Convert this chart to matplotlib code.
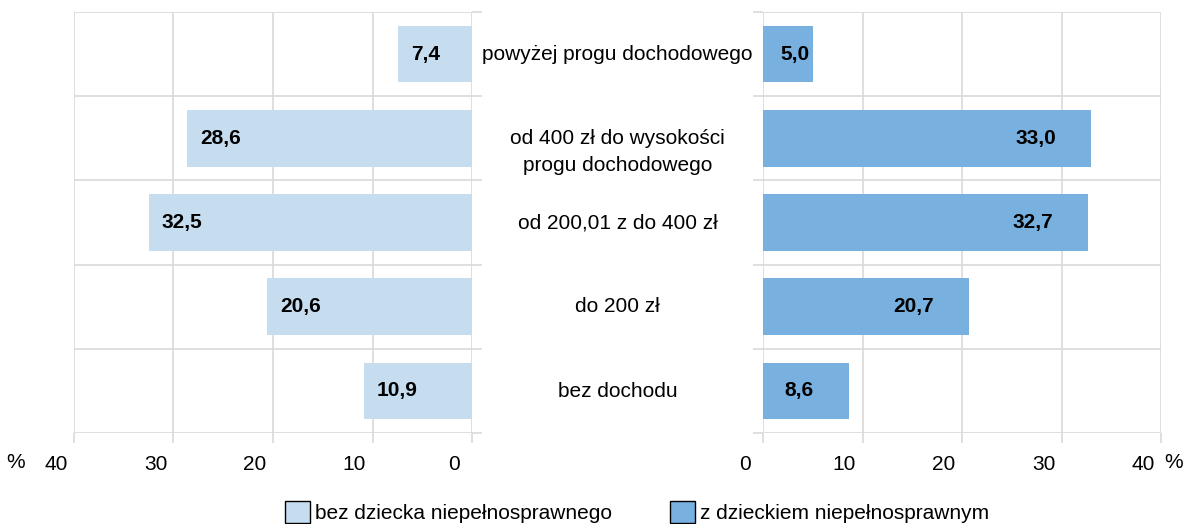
import numpy as np
import matplotlib.pyplot as plt
import matplotlib.transforms as mtransforms

plt.rcParams['font.family'] = ['Liberation Sans', 'DejaVu Sans']
plt.rcParams['font.size'] = 15

categories = ['bez dochodu', 'do 200 zł', 'od 200,01 z do 400 zł',
              'od 400 zł do wysokości\nprogu dochodowego', 'powyżej progu dochodowego']
bez_dziecka = [10.9, 20.6, 32.5, 28.6, 7.4]
z_dzieckiem = [8.6, 20.7, 32.7, 33.0, 5.0]
ticks = [0, 10, 20, 30, 40]
series_names = ['bez dziecka niepełnosprawnego', 'z dzieckiem niepełnosprawnym']

light = '#C6DDF0'
dark = '#78B0DF'
grid_c = '#D9D9D9'

fig = plt.figure(figsize=(11.87, 5.24), dpi=100)
ax1 = fig.add_axes([74/1187, 1-433/524, 398/1187, 421/524])
ax2 = fig.add_axes([763/1187, 1-433/524, 398/1187, 421/524])

y = np.arange(len(categories))
b1 = ax1.barh(y, bez_dziecka, height=0.67, color=light, zorder=3)
b2 = ax2.barh(y, z_dzieckiem, height=0.67, color=dark, zorder=3)

ax1.set_xlim(40, 0)
ax2.set_xlim(0, 40)

shift = mtransforms.ScaledTranslation(-0.18, 0, fig.dpi_scale_trans)
for ax in (ax1, ax2):
    ax.set_ylim(-0.5, len(categories) - 0.5)
    ax.set_xticks(ticks)
    ax.set_yticks([])
    ax.set_yticks(np.arange(-0.5, len(categories)), minor=True)
    ax.grid(True, axis='x', color=grid_c, lw=1.2, zorder=0)
    ax.grid(True, axis='y', which='minor', color=grid_c, lw=1.2, zorder=0)
    for s in ax.spines.values():
        s.set_visible(False)
    ax.tick_params(axis='x', length=7, color=grid_c, width=1.2, pad=9,
                   labelsize=15)
    ax.tick_params(axis='y', which='minor', length=7, color=grid_c, width=1.2)
    for lab in ax.get_xticklabels():
        lab.set_transform(lab.get_transform() + shift)

ax1.yaxis.tick_right()

# value labels (inside the bar end)
for v, yy in zip(bez_dziecka, y):
    ax1.text(v - 1.3, yy, f'{v:.1f}'.replace('.', ','),
             ha='left', va='center', fontweight='bold', zorder=4)
for v, yy in zip(z_dzieckiem, y):
    txt = f'{v:.1f}'.replace('.', ',')
    if v > 7:
        ax2.text(v - 3.5, yy, txt, ha='right', va='center',
                 fontweight='bold', zorder=4)
    else:
        ax2.text(1.7, yy, txt, ha='left', va='center',
                 fontweight='bold', zorder=4)

# category labels between panels
tr = mtransforms.blended_transform_factory(fig.transFigure, ax2.transData)
for c, yy in zip(categories, y):
    fig.text(617.5/1187, yy + 0.11, c, transform=tr, ha='center', va='top',
             linespacing=1.5)

fig.text(16/1187, 1-463/524, '%', ha='center', va='center')
fig.text(1174/1187, 1-463/524, '%', ha='center', va='center')

leg = fig.legend([b1, b2], series_names, loc='center', ncol=2,
                 bbox_to_anchor=(637/1187, 1-512/524), frameon=False,
                 handlelength=1.2, handleheight=1.2, handletextpad=0.25,
                 columnspacing=2.8, fontsize=15, borderpad=0)
for p in leg.get_patches():
    p.set_edgecolor('black')
    p.set_linewidth(1.0)

fig.savefig('out.png', dpi=100)
